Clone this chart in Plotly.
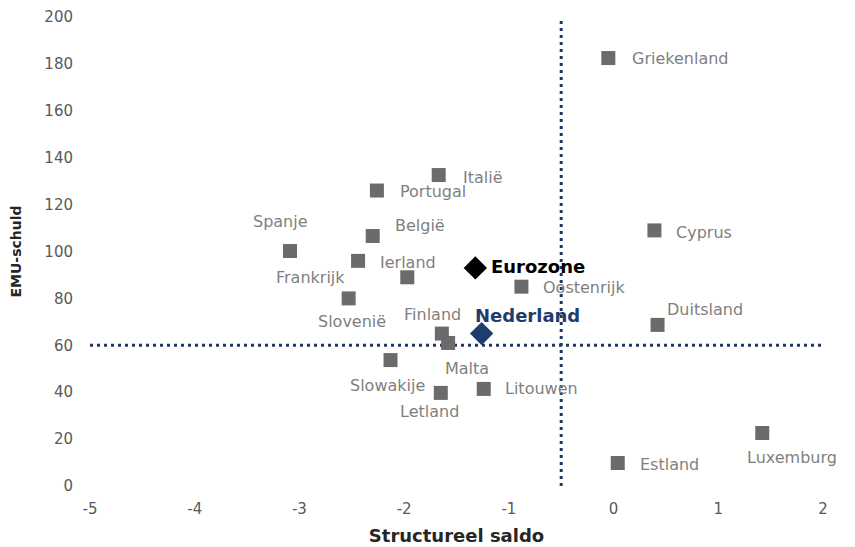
import plotly.graph_objects as go

countries = ["Griekenland", "Italië", "Portugal", "België", "Spanje", "Ierland", "Frankrijk",
             "Slovenië", "Oostenrijk", "Finland", "Malta", "Slowakije", "Letland", "Litouwen",
             "Cyprus", "Duitsland", "Luxemburg", "Estland"]
saldo = [-0.05, -1.67, -2.26, -2.30, -3.09, -2.44, -1.97, -2.53, -0.88, -1.64, -1.58, -2.13,
         -1.65, -1.24, 0.39, 0.42, 1.42, 0.04]
schuld = [182.5, 132.6, 126.0, 106.6, 100.2, 96.0, 89.0, 80.0, 85.0, 65.0, 61.0, 53.7,
          39.7, 41.4, 109.0, 68.7, 22.6, 9.8]

euro_saldo, euro_schuld = [-1.32], [93.0]
ned_saldo, ned_schuld = [-1.26], [65.0]

ref_saldo = -0.5
ref_schuld = 60
x_range = [-5, 2]
y_range = [0, 200]
x_ticks = [-5, -4, -3, -2, -1, 0, 1, 2]
x_ticktext = ["-5", "-4", "-3", "-2", "-1", "0", "1", "2"]
y_ticks = [0, 20, 40, 60, 80, 100, 120, 140, 160, 180, 200]

# label placement: (xanchor, yanchor, xshift, yshift)
label_pos = {
    "Griekenland": ("left", "middle", 22, 0),
    "Italië": ("left", "middle", 22, -2),
    "Portugal": ("left", "middle", 21, -1),
    "België": ("left", "middle", 20, 11),
    "Spanje": ("center", "bottom", -10, 18),
    "Ierland": ("left", "middle", 20, -2),
    "Frankrijk": ("right", "middle", -60, 0),
    "Slovenië": ("center", "top", 3, -12),
    "Oostenrijk": ("left", "middle", 20, -1),
    "Finland": ("right", "bottom", 21, 8),
    "Malta": ("left", "top", -5, -14),
    "Slowakije": ("center", "top", -3, -14),
    "Letland": ("center", "top", -11, -7),
    "Litouwen": ("left", "middle", 19, 0),
    "Cyprus": ("left", "middle", 20, -2),
    "Duitsland": ("left", "bottom", 7, 4),
    "Luxemburg": ("center", "top", 30, -13),
    "Estland": ("left", "middle", 20, -1),
}

GRAY_TXT = "#7f7f7f"
FONT = "DejaVu Sans"

fig = go.Figure()

fig.add_trace(go.Scatter(x=[ref_saldo, ref_saldo], y=y_range, mode="lines",
                         line=dict(color="#1f3864", width=3, dash="3px,4px"),
                         hoverinfo="skip", showlegend=False))
fig.add_trace(go.Scatter(x=x_range, y=[ref_schuld, ref_schuld], mode="lines",
                         line=dict(color="#1f3864", width=3, dash="3px,4px"),
                         hoverinfo="skip", showlegend=False))

fig.add_trace(go.Scatter(x=saldo, y=schuld, mode="markers",
                         marker=dict(symbol="square", size=14, color="#6b6b6b"),
                         text=countries, showlegend=False))
fig.add_trace(go.Scatter(x=euro_saldo, y=euro_schuld, mode="markers",
                         marker=dict(symbol="diamond", size=18, color="#000000"),
                         showlegend=False))
fig.add_trace(go.Scatter(x=ned_saldo, y=ned_schuld, mode="markers",
                         marker=dict(symbol="diamond", size=18, color="#1f3c6e"),
                         showlegend=False))

for c, xv, yv in zip(countries, saldo, schuld):
    xa, ya, xs, ys = label_pos[c]
    fig.add_annotation(x=xv, y=yv, text=c, showarrow=False, xanchor=xa, yanchor=ya,
                       xshift=xs, yshift=ys, font=dict(family=FONT, size=16, color=GRAY_TXT))

fig.add_annotation(x=euro_saldo[0], y=euro_schuld[0], text="<b>Eurozone</b>", showarrow=False,
                   xanchor="left", yanchor="middle", xshift=14, yshift=1,
                   font=dict(family=FONT, size=18, color="#000000"))
fig.add_annotation(x=ned_saldo[0], y=ned_schuld[0], text="<b>Nederland</b>", showarrow=False,
                   xanchor="center", yanchor="bottom", xshift=46, yshift=6,
                   font=dict(family=FONT, size=18, color="#1f3c6e"))

fig.update_layout(
    width=847, height=539,
    margin=dict(l=82, r=32, t=9, b=61, autoexpand=False),
    plot_bgcolor="white", paper_bgcolor="white",
    font=dict(family=FONT, size=15, color="#595959"),
    xaxis=dict(range=x_range, tickvals=x_ticks, ticktext=x_ticktext, showgrid=False,
               zeroline=False, showline=False, ticks="", ticklabelstandoff=12,
               title=dict(text="<b>Structureel saldo</b>", font=dict(size=18, color="#262626"),
                          standoff=12)),
    yaxis=dict(range=y_range, tickvals=y_ticks, showgrid=False, zeroline=False,
               showline=False, ticks="", ticklabelstandoff=16,
               title=dict(text="<b>EMU-schuld</b>", font=dict(size=14, color="#262626"),
                          standoff=20)),
)

fig.write_html("out.html")
